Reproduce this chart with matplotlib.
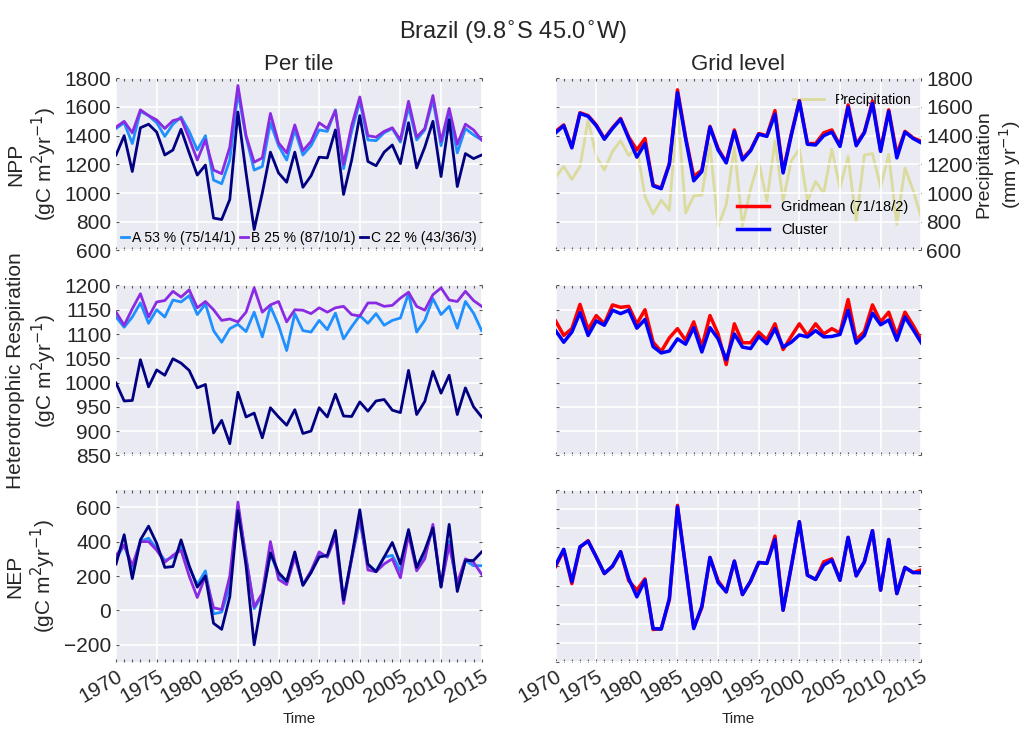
import matplotlib
matplotlib.use('Agg')
import matplotlib.pyplot as plt
from matplotlib.ticker import MultipleLocator
import numpy as np

years = np.arange(1970, 2016)

# NPP per tile
npp_a = [1450, 1490, 1345, 1570, 1540, 1490, 1395, 1480, 1530, 1430,
         1300, 1400, 1090, 1065, 1230, 1700, 1390, 1160, 1185, 1490,
         1330, 1230, 1440, 1265, 1330, 1440, 1430, 1580, 1170, 1430,
         1640, 1370, 1365, 1420, 1450, 1355, 1600, 1370, 1440, 1650,
         1330, 1560, 1280, 1450, 1405, 1370]
npp_b = [1460, 1500, 1420, 1580, 1540, 1510, 1450, 1505, 1520, 1380,
         1230, 1370, 1160, 1135, 1320, 1750, 1400, 1215, 1245, 1555,
         1350, 1280, 1475, 1295, 1360, 1490, 1450, 1575, 1200, 1470,
         1670, 1400, 1390, 1430, 1455, 1370, 1640, 1390, 1450, 1680,
         1360, 1590, 1340, 1480, 1440, 1370]
npp_c = [1265, 1400, 1150, 1455, 1480, 1425, 1265, 1300, 1445, 1280,
         1125, 1195, 825, 815, 955, 1565, 1140, 745, 1000, 1285,
         1140, 1075, 1285, 1040, 1120, 1250, 1245, 1440, 990, 1230,
         1540, 1220, 1190, 1285, 1335, 1205, 1490, 1175, 1320, 1500,
         1115, 1510, 1045, 1275, 1240, 1265]

# NPP grid level
npp_grid = [1430, 1475, 1320, 1560, 1540, 1475, 1380, 1455, 1520, 1390,
            1300, 1380, 1055, 1035, 1205, 1720, 1390, 1115, 1160, 1465,
            1310, 1215, 1440, 1240, 1300, 1415, 1400, 1575, 1150, 1410,
            1645, 1345, 1345, 1420, 1440, 1330, 1615, 1340, 1425, 1640,
            1300, 1580, 1270, 1430, 1385, 1360]
npp_clus = [1420, 1470, 1315, 1555, 1535, 1470, 1375, 1450, 1515, 1380,
            1250, 1345, 1050, 1030, 1200, 1700, 1380, 1085, 1150, 1460,
            1300, 1210, 1430, 1230, 1295, 1410, 1395, 1550, 1140, 1400,
            1640, 1340, 1335, 1400, 1425, 1325, 1600, 1330, 1420, 1625,
            1290, 1570, 1245, 1425, 1380, 1350]
precip = [1110, 1185, 1095, 1185, 1510, 1255, 1160, 1290, 1365, 1260,
          1320, 975, 855, 950, 880, 1600, 860, 980, 985, 1340,
          765, 920, 1320, 770, 1030, 1220, 945, 1365, 945, 1225,
          1305, 945, 1080, 1000, 1305, 1035, 1255, 800, 1265, 1275,
          1040, 1270, 780, 1175, 1020, 830]

# Heterotrophic respiration per tile
rh_a = [1135, 1114, 1135, 1164, 1122, 1150, 1135, 1170, 1166, 1179,
        1140, 1162, 1107, 1083, 1111, 1120, 1105, 1145, 1094, 1157,
        1118, 1066, 1142, 1107, 1104, 1128, 1109, 1143, 1090, 1115,
        1138, 1122, 1142, 1118, 1128, 1133, 1184, 1104, 1128, 1173,
        1140, 1157, 1112, 1167, 1143, 1107]
rh_b = [1145, 1118, 1152, 1183, 1135, 1166, 1169, 1188, 1176, 1191,
        1154, 1167, 1150, 1128, 1131, 1125, 1145, 1195, 1145, 1160,
        1167, 1125, 1150, 1149, 1142, 1154, 1145, 1154, 1157, 1140,
        1137, 1164, 1164, 1157, 1159, 1174, 1186, 1157, 1149, 1181,
        1195, 1170, 1167, 1188, 1169, 1157]
rh_c = [999, 962, 963, 1047, 991, 1026, 1015, 1049, 1040, 1025,
        989, 996, 896, 922, 874, 980, 929, 937, 886, 948,
        929, 912, 944, 895, 900, 948, 929, 976, 931, 930,
        960, 941, 962, 965, 943, 938, 1025, 934, 961, 1023,
        978, 1015, 934, 989, 950, 929]

# Heterotrophic respiration grid level
rh_grid = [1127, 1097, 1111, 1161, 1109, 1138, 1121, 1160, 1155, 1157,
           1121, 1150, 1083, 1064, 1092, 1111, 1087, 1125, 1073, 1138,
           1100, 1037, 1121, 1082, 1082, 1104, 1088, 1121, 1068, 1095,
           1121, 1097, 1121, 1100, 1111, 1102, 1171, 1088, 1105, 1160,
           1125, 1145, 1097, 1145, 1118, 1088]
rh_clus = [1107, 1083, 1104, 1144, 1097, 1127, 1118, 1149, 1142, 1149,
           1112, 1130, 1074, 1061, 1065, 1090, 1079, 1113, 1063, 1113,
           1090, 1047, 1100, 1073, 1070, 1095, 1080, 1111, 1073, 1083,
           1098, 1094, 1107, 1094, 1095, 1099, 1149, 1081, 1097, 1143,
           1119, 1129, 1087, 1135, 1109, 1082]

# NEP per tile
nep_a = [300, 380, 240, 400, 420, 360, 290, 310, 370, 250,
         150, 230, -20, -10, 140, 600, 310, 10, 90, 330,
         210, 160, 330, 150, 220, 330, 310, 450, 60, 300,
         520, 260, 230, 310, 320, 230, 460, 250, 320, 480,
         140, 400, 130, 290, 260, 260]
nep_b = [320, 380, 260, 400, 400, 350, 280, 320, 350, 200,
         75, 200, 15, 5, 200, 630, 300, 20, 100, 400,
         180, 150, 310, 150, 230, 340, 310, 430, 40, 300,
         550, 235, 225, 270, 300, 190, 440, 230, 300, 500,
         140, 380, 160, 300, 280, 210]
nep_c = [270, 440, 185, 410, 490, 390, 250, 255, 410, 260,
         135, 200, -75, -110, 80, 580, 260, -200, 70, 335,
         220, 170, 340, 145, 220, 310, 320, 465, 60, 310,
         585, 270, 225, 310, 395, 270, 470, 250, 350, 480,
         135, 500, 110, 290, 290, 340]

# NEP grid level
nep_grid = [300, 385, 210, 400, 435, 350, 263, 300, 377, 225,
            176, 235, -30, -25, 125, 620, 298, -20, 85, 347,
            225, 167, 328, 153, 223, 321, 316, 459, 71, 298,
            534, 254, 232, 324, 340, 228, 452, 251, 324, 487,
            176, 441, 158, 295, 268, 281]
nep_clus = [307, 390, 220, 403, 432, 350, 263, 302, 377, 237,
            141, 228, -25, -28, 132, 612, 298, -25, 92, 347,
            216, 167, 328, 153, 223, 321, 316, 441, 71, 298,
            534, 254, 232, 307, 333, 228, 452, 251, 324, 487,
            176, 441, 158, 295, 268, 267]

tile_labels = ['A 53 % (75/14/1)', 'B 25 % (87/10/1)', 'C 22 % (43/36/3)']
tile_colors = ['#1e90ff', '#8a2be2', '#000080']

plt.rcParams['font.family'] = ['Liberation Sans', 'DejaVu Sans']
bg = '#eaeaf2'
txt = '#262626'

fig = plt.figure(figsize=(10.27, 7.32), dpi=100)
lefts = [0.113, 0.541]
bottoms = [0.658, 0.378, 0.0956]
heights = [0.235, 0.232, 0.235]
axes = [[fig.add_axes([l, b, 0.356, h]) for l in lefts]
        for b, h in zip(bottoms, heights)]

ylims = [[(600, 1800), (600, 1800)],
         [(850, 1200), (850, 1200)],
         [(-300, 700), (-200, 700)]]
ysteps = [[200, 200], [50, 50], [200, 100]]

for r in range(3):
    for c in range(2):
        ax = axes[r][c]
        ax.set_facecolor(bg)
        ax.grid(True, color='white', linewidth=1.2)
        ax.set_axisbelow(True)
        for s in ax.spines.values():
            s.set_visible(False)
        ax.set_xlim(1970, 2015)
        ax.set_ylim(*ylims[r][c])
        ax.xaxis.set_major_locator(MultipleLocator(5))
        ax.xaxis.set_minor_locator(MultipleLocator(1))
        ax.yaxis.set_major_locator(MultipleLocator(ysteps[r][c]))
        ax.tick_params(which='both', direction='in', length=2, width=0.8,
                       color='#555555', labelcolor=txt, top=True, right=True,
                       labelsize=15)
        if c == 1:
            ax.tick_params(labelleft=False)
        if r < 2:
            ax.tick_params(labelbottom=False)
        else:
            for lab in ax.get_xticklabels():
                lab.set_rotation(30)
                lab.set_ha('right')
                lab.set_rotation_mode('anchor')
            ax.set_xlabel('Time', fontsize=11, color=txt)

tiles = [(npp_a, npp_b, npp_c), (rh_a, rh_b, rh_c), (nep_a, nep_b, nep_c)]
grids = [(npp_grid, npp_clus), (rh_grid, rh_clus), (nep_grid, nep_clus)]

for r in range(3):
    for vals, col, lab in zip(tiles[r], tile_colors, tile_labels):
        axes[r][0].plot(years, vals, color=col, lw=2, label=lab)
    axes[r][1].plot(years, grids[r][0], color='red', lw=2.5,
                    label='Gridmean (71/18/2)')
    axes[r][1].plot(years, grids[r][1], color='blue', lw=2.5, label='Cluster')

axes[0][0].legend(loc='lower center', ncol=3, frameon=False, fontsize=10,
                  handlelength=0.6, handletextpad=0.2, columnspacing=0.3,
                  borderaxespad=0.1, bbox_to_anchor=(0.5, -0.01))

tw = axes[0][1].twinx()
tw.plot(years, precip, color='y', alpha=0.35, lw=2, label='Precipitation')
tw.set_ylim(600, 1800)
tw.yaxis.set_major_locator(MultipleLocator(200))
for s in tw.spines.values():
    s.set_visible(False)
tw.tick_params(direction='in', length=2, labelsize=15, color='#555555',
               labelcolor=txt)
tw.set_ylabel('Precipitation\n(mm yr$^{-1}$)', fontsize=14, color=txt,
              labelpad=2)
tw.legend(loc='upper right', frameon=False, fontsize=10, handlelength=2.2,
          borderaxespad=0.3, bbox_to_anchor=(1.0, 0.97))
axes[0][1].set_zorder(tw.get_zorder() + 1)
axes[0][1].patch.set_visible(False)
tw.set_facecolor(bg)
tw.patch.set_visible(True)
axes[0][1].legend(loc='lower right', frameon=False, fontsize=10.5,
                  handlelength=2.2, labelspacing=0.6,
                  bbox_to_anchor=(1.0, 0.0))

axes[0][0].set_ylabel('NPP\n(gC m$^2$yr$^{-1}$)', fontsize=15, color=txt)
axes[1][0].set_ylabel('Heterotrophic Respiration\n(gC m$^2$yr$^{-1}$)',
                      fontsize=15, color=txt)
axes[2][0].set_ylabel('NEP\n(gC m$^2$yr$^{-1}$)', fontsize=15, color=txt)
axes[0][0].set_title('Per tile', fontsize=16, color=txt)
axes[0][1].set_title('Grid level', fontsize=16, color=txt)
fig.suptitle('Brazil (9.8$^{\\circ}$S 45.0$^{\\circ}$W)', fontsize=17,
             color=txt, y=0.975)

plt.savefig('out.png', dpi=100)
